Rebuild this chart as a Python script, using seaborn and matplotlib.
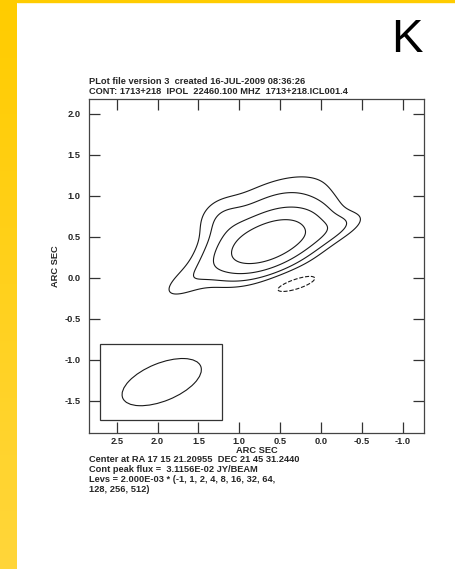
import numpy as np
import matplotlib
matplotlib.use("Agg")
import matplotlib.pyplot as plt
from matplotlib.patches import Ellipse, Rectangle
from matplotlib.colors import LinearSegmentedColormap
import seaborn as sns

# Gaussian model of the source: offsets (arcsec), peak (Jy/beam), sigmas (arcsec), PA (deg)
comp_ra = [0.65, 0.58, 1.65, 1.20, -0.15, 0.32]
comp_dec = [0.43, 0.92, -0.05, 0.68, 0.60, -0.07]
comp_peak = [0.0285, 0.0036, 0.0025, 0.0025, 0.0030, -0.0030]
comp_smaj = [0.42, 0.55, 0.30, 0.20, 0.30, 0.30]
comp_smin = [0.19, 0.22, 0.12, 0.20, 0.10, 0.08]
comp_pa = [22, 20, 30, 0, 20, 17]

# Contour levels
lev_base = 2.000e-3
lev_mult = [-1, 1, 2, 4, 8, 16, 32, 64, 128, 256, 512]

# Restoring beam (centre, full axes in arcsec, PA) and its frame
beam_center = (1.95, -1.27)
beam_axes = (1.03, 0.46)
beam_pa = 158
beam_box = (1.21, -1.73, 2.71, -0.81)

# Axes
x_ticks = [2.5, 2.0, 1.5, 1.0, 0.5, 0.0, -0.5, -1.0]
y_ticks = [2.0, 1.5, 1.0, 0.5, 0.0, -0.5, -1.0, -1.5]
x_lim = (2.84, -1.26)
y_lim = (-1.89, 2.18)

header = ["PLot file version 3  created 16-JUL-2009 08:36:26",
          "CONT: 1713+218  IPOL  22460.100 MHZ  1713+218.ICL001.4"]
footer = ["Center at RA 17 15 21.20955  DEC 21 45 31.2440",
          "Cont peak flux =  3.1156E-02 JY/BEAM",
          "Levs = 2.000E-03 * (-1, 1, 2, 4, 8, 16, 32, 64,",
          "128, 256, 512)"]
panel_letter = "K"

sns.set_theme(style="ticks")
plt.rcParams["font.family"] = ["Liberation Sans", "DejaVu Sans"]

W, H = 456, 569
fig = plt.figure(figsize=(W / 100, H / 100), dpi=100)
fig.patch.set_facecolor("white")

def px(x, y):
    return x / W, 1 - y / H

# yellow side bar and thin top rule
bar = fig.add_axes([0, 0, 17 / W, 1])
grad = np.linspace(0, 1, 256).reshape(-1, 1)
bar.imshow(grad, aspect="auto", cmap=LinearSegmentedColormap.from_list("y", ["#FFCC00", "#FFD63A"]),
           extent=(0, 1, 0, 1))
bar.set_axis_off()
fig.patches.append(Rectangle((17 / W, 1 - 1.5 / H), 1, 1.5 / H, transform=fig.transFigure,
                             color="#FFCC00", zorder=5))

fig.text(*px(407, 40), panel_letter, fontsize=34, ha="center", va="center", color="black")

ax = fig.add_axes([89 / W, 1 - 433 / H, (424 - 89) / W, (433 - 99) / H])

x = np.linspace(x_lim[1], x_lim[0], 400)
y = np.linspace(y_lim[0], y_lim[1], 400)
X, Y = np.meshgrid(x, y)
F = np.zeros_like(X)
for x0, y0, pk, sa, sb, pa in zip(comp_ra, comp_dec, comp_peak, comp_smaj, comp_smin, comp_pa):
    t = np.deg2rad(pa)
    dx, dy = X - x0, Y - y0
    a = -dx * np.cos(t) + dy * np.sin(t)
    b = dx * np.sin(t) + dy * np.cos(t)
    F += pk * np.exp(-0.5 * ((a / sa) ** 2 + (b / sb) ** 2))

levels = [lev_base * m for m in lev_mult]
ax.contour(X, Y, F, levels=levels, colors="#1a1a1a", linewidths=0.8,
           linestyles=["dashed" if m < 0 else "solid" for m in lev_mult])

x0b, y0b, x1b, y1b = beam_box
ax.add_patch(Rectangle((x0b, y0b), x1b - x0b, y1b - y0b, fill=False, ec="#333333", lw=0.9))
ax.add_patch(Ellipse(beam_center, beam_axes[0], beam_axes[1], angle=beam_pa,
                     fill=False, ec="#1a1a1a", lw=0.8))

ax.set_xlim(*x_lim)
ax.set_ylim(*y_lim)
ax.set_xticks(x_ticks)
ax.set_yticks(y_ticks)
ax.set_xticklabels([f"{v:.1f}" for v in x_ticks])
ax.set_yticklabels([f"{v:.1f}" for v in y_ticks])
ax.tick_params(direction="in", length=8, width=0.9, color="#333333",
               top=True, right=True, labelsize=6.7)
ax.tick_params(axis="x", pad=3)
ax.tick_params(axis="y", pad=6)
for lab in ax.get_xticklabels() + ax.get_yticklabels():
    lab.set_fontweight("bold")
for s in ax.spines.values():
    s.set_color("#444444")
    s.set_linewidth(0.9)
ax.set_facecolor("white")
ax.set_xlabel("ARC SEC", fontsize=6.7, fontweight="bold", labelpad=-0.3)
ax.set_ylabel("ARC SEC", fontsize=6.7, fontweight="bold", labelpad=3)

for i, line in enumerate(header):
    fig.text(*px(89, 82 + 9 * i), line, fontsize=6.7, fontweight="bold", va="center", ha="left")
for i, line in enumerate(footer):
    fig.text(*px(89, 460 + 10 * i), line, fontsize=6.7, fontweight="bold", va="center", ha="left")

fig.savefig("out.png", dpi=100)
